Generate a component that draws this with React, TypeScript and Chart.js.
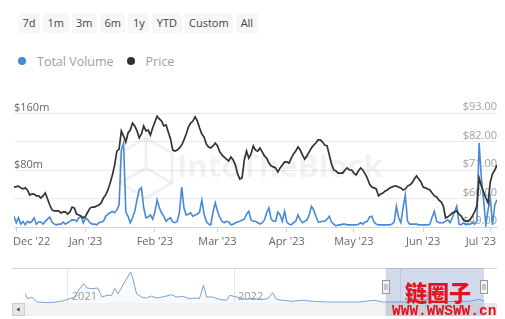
import React, { useEffect, useRef } from 'react';
import { Chart, registerables } from 'chart.js';

Chart.register(...registerables);

// ---------------- data ----------------
// main chart: daily values, first value = 30 Nov 2022 (day -1, days counted from 1 Dec 2022)
const seriesStartDay = -1;
const priceValues = [
  64.4, 64.6, 64.8, 64.1, 63.7, 64.1, 63.3, 61.4, 61.7, 61.7,
  61.0, 61.0, 60.2, 61.0, 62.1, 59.8, 57.5, 55.6, 55.2, 55.2,
  55.2, 54.4, 54.8, 54.8, 54.0, 54.8, 56.7, 56.3, 54.0, 53.6,
  53.2, 52.5, 53.2, 54.8, 56.3, 56.7, 56.7, 57.1, 57.5, 58.3,
  60.2, 61.4, 63.3, 66.0, 69.1, 72.9, 78.3, 79.1, 86.1, 84.1,
  81.8, 85.3, 86.4, 89.1, 88.0, 86.1, 83.4, 84.9, 88.0, 86.1,
  86.4, 84.5, 87.2, 89.5, 91.8, 90.7, 89.9, 88.0, 88.4, 85.7,
  83.0, 78.7, 78.3, 78.7, 79.5, 80.6, 82.6, 84.9, 87.6, 89.1,
  89.9, 91.5, 89.9, 87.2, 84.9, 83.7, 81.0, 79.9, 79.5, 80.3,
  81.4, 80.3, 78.0, 76.8, 76.0, 75.2, 74.5, 76.0, 74.9, 72.9,
  69.5, 67.5, 67.9, 74.9, 78.3, 75.6, 77.2, 80.3, 78.7, 78.3,
  79.5, 78.0, 76.4, 75.6, 73.7, 72.5, 72.2, 71.8, 70.2, 71.8,
  72.9, 74.1, 74.1, 73.7, 75.6, 77.2, 78.3, 79.9, 78.7, 76.8,
  75.2, 76.4, 78.0, 79.5, 80.6, 81.4, 82.6, 82.6, 81.8, 80.6,
  80.3, 76.8, 73.3, 71.0, 70.6, 69.8, 69.8, 69.8, 71.0, 71.8,
  71.0, 71.0, 69.8, 69.1, 70.6, 71.8, 71.0, 69.5, 67.9, 65.6,
  64.4, 64.1, 63.7, 61.0, 61.7, 62.1, 62.9, 63.3, 64.1, 64.4,
  64.8, 64.8, 64.4, 64.1, 63.3, 63.7, 64.8, 65.2, 66.0, 67.5,
  68.7, 67.5, 66.4, 64.4, 64.1, 63.7, 63.3, 62.1, 61.0, 60.6,
  59.4, 58.7, 57.1, 52.5, 52.9, 53.6, 54.4, 54.8, 55.2, 54.0,
  53.2, 51.7, 51.3, 51.3, 51.9, 53.3, 54.8, 57.1, 67.9, 64.8,
  62.5, 60.2, 58.3, 66.4, 69.5, 71.0, 72.9,
];
// total volume, $ millions
const volumeValues = [
  15, 6, 13, 4, 8, 3, 8, 6, 8, 13,
  4, 7, 7, 4, 8, 11, 14, 7, 4, 3,
  4, 4, 7, 4, 6, 8, 10, 10, 8, 13,
  15, 6, 13, 10, 6, 4, 4, 3, 6, 7,
  8, 15, 18, 20, 22, 20, 24, 31, 108, 118,
  21, 15, 6, 13, 22, 38, 52, 55, 27, 13,
  14, 17, 11, 21, 38, 27, 20, 15, 8, 11,
  13, 7, 6, 8, 21, 56, 27, 17, 18, 20,
  15, 17, 18, 21, 38, 18, 8, 4, 3, 21,
  34, 22, 14, 8, 6, 8, 7, 3, 4, 6,
  7, 8, 10, 11, 18, 22, 10, 8, 8, 6,
  4, 6, 10, 20, 27, 11, 8, 8, 21, 17,
  8, 22, 7, 4, 3, 6, 8, 17, 10, 6,
  8, 10, 17, 29, 24, 15, 7, 7, 8, 8,
  11, 15, 7, 4, 1.5, 3, 3, 4, 4, 3,
  3, 3, 3, 3, 4, 6, 4, 7, 8, 14,
  15, 7, 4, 3, 3, 3, 3, 3, 3, 4,
  7, 29, 13, 6, 27, 45, 8, 4, 4, 4,
  4, 3, 3, 3, 3, 3, 4, 14, 22, 8,
  6, 6, 6, 8, 10, 6, 13, 21, 29, 4,
  3, 6, 3, 4, 4, 6, 4, 8, 118, 69,
  38, 3, 24, 41, 3, 31, 38,
];
const monthTicks = [0, 31, 62, 90, 121, 151, 182, 212];
const monthLabels = ["Dec '22", "Jan '23", "Feb '23", "Mar '23", "Apr '23", "May '23", "Jun '23", "Jul '23"];
const volumeTicks = [0, 80, 160];
const priceTicks = [49, 60, 71, 82, 93];
const rangeButtons = ['7d', '1m', '3m', '6m', '1y', 'YTD', 'Custom', 'All'];
const legendItems = [
  { label: 'Total Volume', color: '#4789d6' },
  { label: 'Price', color: '#333333' },
];

// navigator: days counted from 1 Jan 2021, volume in $ millions
const navDays = [
  -94, -88, -79, -68, -39, -11, 4, 15, 26, 35, 42, 53, 66, 75, 86, 96,
  103, 110, 125, 138, 143, 151, 162, 173, 184, 195, 208, 228, 239, 252,
  268, 283, 289, 298, 305, 318, 333, 349, 355, 371, 393, 399, 414, 428,
  439, 450, 458, 471, 493, 515, 537, 568, 603, 640, 673, 691, 713, 750,
  809, 853, 882, 905, 914,
];
const navVolume = [
  279, 129, 180, 30, 9, 60, 129, 180, 429, 579, 450, 429, 450, 180, 231, 231,
  429, 279, 630, 930, 729, 279, 180, 150, 210, 150, 180, 249, 180, 201,
  129, 150, 129, 531, 180, 180, 111, 81, 231, 180, 111, 129, 129, 111,
  129, 309, 111, 81, 51, 81, 51, 30, 30, 30, 81, 30, 30, 30,
  30, 51, 51, 111, 51,
];
const yearTicks = [0, 365, 730];
const yearLabels = ['2021', '2022', '2023'];
const navSelectionDays = [698, 914];

const FONT = '"Open Sans", "DejaVu Sans", sans-serif';

// ---------------- plugins ----------------
const mainDecor = {
  id: 'mainDecor',
  beforeDatasetsDraw(chart: any) {
    const ctx = chart.ctx;
    ctx.save();
    // faint IntoTheBlock watermark
    ctx.font = `bold 40px ${FONT}`;
    const w = ctx.measureText('IntoTheBlock').width;
    const size = (40 * 206) / w;
    ctx.font = `bold ${size}px ${FONT}`;
    ctx.fillStyle = 'rgba(0,0,0,0.05)';
    ctx.textBaseline = 'middle';
    ctx.textAlign = 'left';
    ctx.fillText('IntoTheBlock', 177, 80);
    // hexagon logo
    const cx = 146, cy = 80, r = 30;
    ctx.strokeStyle = 'rgba(0,0,0,0.06)';
    ctx.lineWidth = 3;
    ctx.beginPath();
    for (let k = 0; k < 6; k++) {
      const a = Math.PI / 2 + (k * Math.PI) / 3;
      const px = cx + r * Math.cos(a), py = cy + r * Math.sin(a);
      if (k === 0) ctx.moveTo(px, py); else ctx.lineTo(px, py);
    }
    ctx.closePath();
    ctx.stroke();
    ctx.beginPath();
    for (let k = 0; k < 3; k++) {
      const a = -Math.PI / 2 + (k * 2 * Math.PI) / 3;
      ctx.moveTo(cx, cy);
      ctx.lineTo(cx + r * Math.cos(a), cy + r * Math.sin(a));
    }
    ctx.stroke();
    ctx.restore();
  },
  afterDraw(chart: any) {
    const xs = chart.scales.x;
    const ctx = chart.ctx;
    ctx.save();
    ctx.font = `11px ${FONT}`;
    ctx.fillStyle = '#666666';
    ctx.textBaseline = 'middle';
    ctx.textAlign = 'left';
    monthTicks.forEach((d, i) => {
      const px = xs.getPixelForValue(d);
      const w = ctx.measureText(monthLabels[i]).width;
      let l = px - w / 2;
      l = Math.max(l, xs.left - 1);
      l = Math.min(l, xs.right - 1 - w);
      ctx.fillText(monthLabels[i], l, xs.bottom + 10);
    });
    ctx.restore();
  },
};

const navDecor = {
  id: 'navDecor',
  beforeDatasetsDraw(chart: any) {
    const xs = chart.scales.x;
    const ctx = chart.ctx;
    ctx.save();
    ctx.font = `11px ${FONT}`;
    ctx.fillStyle = '#999999';
    ctx.textBaseline = 'middle';
    ctx.textAlign = 'left';
    yearTicks.forEach((d, i) => {
      ctx.fillText(yearLabels[i], xs.getPixelForValue(d) + 4, chart.chartArea.bottom - 6);
    });
    ctx.restore();
  },
  afterDraw(chart: any) {
    const xs = chart.scales.x;
    const ctx = chart.ctx;
    const { top, bottom } = chart.chartArea;
    const x0 = xs.getPixelForValue(navSelectionDays[0]);
    const x1 = xs.getPixelForValue(navSelectionDays[1]);
    const outerL = 12, outerR = 497;
    ctx.save();
    // outline
    ctx.strokeStyle = '#d6d6d6';
    ctx.lineWidth = 1;
    ctx.beginPath();
    ctx.moveTo(outerL, top + 0.5);
    ctx.lineTo(outerR, top + 0.5);
    ctx.stroke();
    // selection mask
    ctx.fillStyle = 'rgba(102,133,194,0.3)';
    ctx.fillRect(x0, top, x1 - x0, bottom - top);
    // scrollbar
    const sTop = bottom, sH = 13;
    ctx.fillStyle = '#f2f2f2';
    ctx.fillRect(outerL, sTop, outerR - outerL, sH);
    ctx.fillStyle = '#c9cfdb';
    ctx.fillRect(x0, sTop, x1 - x0, sH);
    ctx.fillStyle = '#e6e6e6';
    ctx.strokeStyle = '#cccccc';
    ctx.fillRect(outerL, sTop, 13, sH);
    ctx.strokeRect(outerL + 0.5, sTop + 0.5, 12, sH - 1);
    ctx.fillRect(outerR - 13, sTop, 13, sH);
    ctx.fillStyle = '#333333';
    ctx.beginPath();
    ctx.moveTo(outerL + 4.5, sTop + 6.5);
    ctx.lineTo(outerL + 7.5, sTop + 4.5);
    ctx.lineTo(outerL + 7.5, sTop + 8.5);
    ctx.closePath();
    ctx.fill();
    // handles
    [x0, x1].forEach((hx) => {
      const hy = top + 12;
      ctx.fillStyle = '#f2f2f2';
      ctx.strokeStyle = '#999999';
      ctx.fillRect(Math.round(hx) - 3.5, hy, 7, 13);
      ctx.strokeRect(Math.round(hx) - 3.5, hy + 0.5, 7, 13);
      ctx.beginPath();
      ctx.moveTo(Math.round(hx) - 1, hy + 4);
      ctx.lineTo(Math.round(hx) - 1, hy + 10);
      ctx.moveTo(Math.round(hx) + 1, hy + 4);
      ctx.lineTo(Math.round(hx) + 1, hy + 10);
      ctx.stroke();
    });
    ctx.restore();
  },
};

// ---------------- components ----------------
function MainChart() {
  const ref = useRef<HTMLCanvasElement | null>(null);
  useEffect(() => {
    if (!ref.current) return;
    const priceData = priceValues.map((v, i) => ({ x: seriesStartDay + i, y: v }));
    const volumeData = volumeValues.map((v, i) => ({ x: seriesStartDay + i, y: v }));
    const chart = new Chart(ref.current, {
      type: 'line',
      data: {
        datasets: [
          {
            label: 'Price',
            data: priceData,
            yAxisID: 'yPrice',
            borderColor: legendItems[1].color,
            borderWidth: 1.7,
            pointRadius: 0,
            tension: 0,
            order: 1,
          },
          {
            label: 'Total Volume',
            data: volumeData,
            yAxisID: 'yVol',
            borderColor: legendItems[0].color,
            borderWidth: 1.6,
            pointRadius: 0,
            tension: 0,
            order: 2,
          },
        ],
      },
      options: {
        animation: false,
        responsive: false,
        devicePixelRatio: 1,
        layout: { padding: { top: 25, bottom: 23, left: 14, right: 8 } },
        plugins: { legend: { display: false }, tooltip: { enabled: false } },
        scales: {
          x: {
            type: 'linear',
            min: seriesStartDay,
            max: seriesStartDay + priceValues.length - 1,
            afterBuildTicks: (s: any) => {
              s.ticks = monthTicks.map((v) => ({ value: v }));
            },
            ticks: { display: false },
            grid: { drawOnChartArea: false, drawTicks: true, tickLength: 5, tickColor: '#ccd6eb' },
            border: { display: true, color: '#ccd6eb' },
          },
          yVol: {
            type: 'linear',
            position: 'left',
            min: volumeTicks[0],
            max: volumeTicks[volumeTicks.length - 1],
            afterBuildTicks: (s: any) => {
              s.ticks = volumeTicks.map((v) => ({ value: v }));
            },
            afterFit: (s: any) => {
              s.width = 0;
            },
            grid: { display: false },
            border: { display: false },
            ticks: {
              mirror: true,
              padding: 0,
              labelOffset: -5,
              color: '#666666',
              font: { family: FONT, size: 11 },
              callback: (v: any) => (v === 0 ? '' : '$' + v + 'm'),
            },
          },
          yPrice: {
            type: 'linear',
            position: 'right',
            min: priceTicks[0],
            max: priceTicks[priceTicks.length - 1],
            afterBuildTicks: (s: any) => {
              s.ticks = priceTicks.map((v) => ({ value: v }));
            },
            afterFit: (s: any) => {
              s.width = 0;
            },
            grid: { color: '#ebebeb', drawTicks: false },
            border: { display: false },
            ticks: {
              mirror: true,
              padding: 0,
              labelOffset: -6,
              color: '#a0a0a0',
              font: { family: FONT, size: 11 },
              callback: (v: any) => '$' + Number(v).toFixed(2),
            },
          },
        },
      },
      plugins: [mainDecor],
    });
    return () => chart.destroy();
  }, []);
  return (
    <canvas
      ref={ref}
      width={505}
      height={167}
      style={{ position: 'absolute', left: 0, top: 88, width: 505, height: 167 }}
    />
  );
}

function NavigatorChart() {
  const ref = useRef<HTMLCanvasElement | null>(null);
  useEffect(() => {
    if (!ref.current) return;
    const data = navDays.map((d, i) => ({ x: d, y: navVolume[i] }));
    const chart = new Chart(ref.current, {
      type: 'line',
      data: {
        datasets: [
          {
            label: 'Total Volume',
            data,
            borderColor: '#7aa1d2',
            backgroundColor: 'rgba(122,161,210,0.06)',
            fill: 'origin',
            borderWidth: 1,
            pointRadius: 0,
            tension: 0,
          },
        ],
      },
      options: {
        animation: false,
        responsive: false,
        devicePixelRatio: 1,
        layout: { padding: { top: 6, bottom: 16, left: 25, right: 21 } },
        plugins: { legend: { display: false }, tooltip: { enabled: false } },
        scales: {
          x: {
            type: 'linear',
            min: navDays[0],
            max: navDays[navDays.length - 1],
            afterBuildTicks: (s: any) => {
              s.ticks = yearTicks.map((v) => ({ value: v }));
            },
            ticks: { display: false },
            grid: { color: '#e6e6e6', drawTicks: false },
            border: { display: false },
          },
          y: {
            type: 'linear',
            min: 0,
            max: 1050,
            display: false,
          },
        },
      },
      plugins: [navDecor],
    });
    return () => chart.destroy();
  }, []);
  return (
    <canvas
      ref={ref}
      width={505}
      height={57}
      style={{ position: 'absolute', left: 0, top: 262, width: 505, height: 57 }}
    />
  );
}

export default function App() {
  return (
    <div
      style={{
        position: 'absolute',
        left: 0,
        top: 0,
        width: 505,
        height: 319,
        background: '#ffffff',
        overflow: 'hidden',
        fontFamily: FONT,
      }}
    >
      <div style={{ position: 'absolute', left: 18, top: 13, display: 'flex', gap: 3 }}>
        {rangeButtons.map((b) => (
          <div
            key={b}
            style={{
              height: 20,
              lineHeight: '20px',
              padding: '0 4.5px',
              background: '#f7f7f7',
              color: '#444',
              fontSize: 11,
            }}
          >
            {b}
          </div>
        ))}
      </div>
      <div style={{ position: 'absolute', left: 18, top: 52, display: 'flex', alignItems: 'center', height: 18 }}>
        {legendItems.map((it, i) => (
          <div key={it.label} style={{ display: 'flex', alignItems: 'center', marginRight: i === 0 ? 13 : 0 }}>
            <span
              style={{
                display: 'inline-block',
                width: 8,
                height: 8,
                borderRadius: 4,
                background: it.color,
                marginRight: 11,
              }}
            />
            <span style={{ fontSize: 12.5, color: '#a0a0a0' }}>{it.label}</span>
          </div>
        ))}
      </div>
      <MainChart />
      <NavigatorChart />
      <div
        style={{
          position: 'absolute',
          left: 405,
          top: 280,
          fontFamily: '"Noto Sans CJK SC", sans-serif',
          fontWeight: 900,
          fontSize: 22,
          lineHeight: '22px',
          color: '#e3141d',
          whiteSpace: 'nowrap',
        }}
      >
        链圈子
      </div>
      <div
        style={{
          position: 'absolute',
          left: 392,
          top: 304,
          fontFamily: '"Liberation Mono", monospace',
          fontWeight: 'bold',
          fontSize: 14.5,
          lineHeight: '14px',
          color: '#e3141d',
          whiteSpace: 'nowrap',
        }}
      >
        WWW.WWSWW.cn
      </div>
    </div>
  );
}
